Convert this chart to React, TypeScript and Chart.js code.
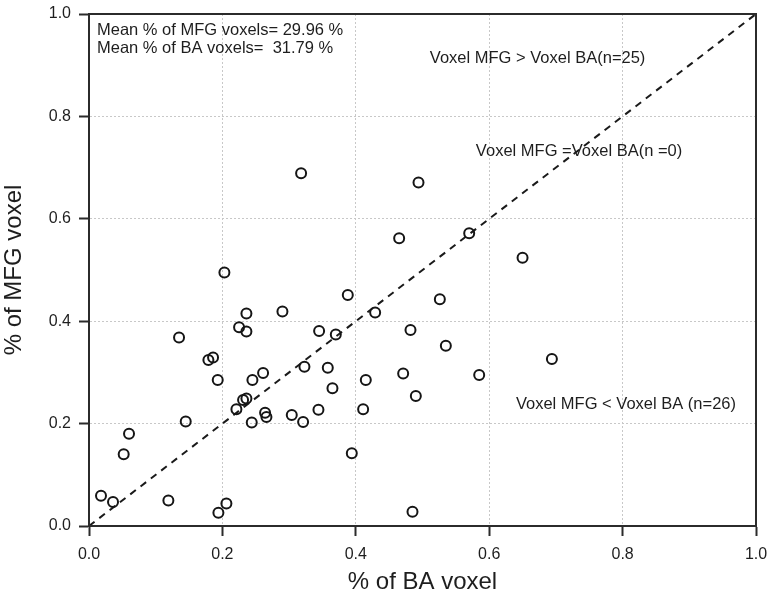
import React, { useEffect, useRef } from "react";
import { Chart, registerables } from "chart.js";

Chart.register(...registerables);

// % of BA voxel (x) and % of MFG voxel (y) for each subject
const baVoxel = [
  0.018, 0.036, 0.052, 0.060, 0.119, 0.135, 0.145, 0.179, 0.186, 0.193,
  0.194, 0.206, 0.221, 0.225, 0.231, 0.236, 0.236, 0.236, 0.244, 0.245,
  0.261, 0.264, 0.266, 0.290, 0.304, 0.321, 0.323, 0.344, 0.345, 0.358,
  0.365, 0.370, 0.388, 0.394, 0.411, 0.415, 0.429, 0.318, 0.203, 0.494,
  0.465, 0.570, 0.650, 0.526, 0.482, 0.535, 0.694, 0.471, 0.585, 0.490,
  0.485,
];
const mfgVoxel = [
  0.059, 0.047, 0.140, 0.180, 0.050, 0.368, 0.204, 0.324, 0.329, 0.285,
  0.026, 0.044, 0.228, 0.388, 0.246, 0.249, 0.415, 0.380, 0.202, 0.285,
  0.299, 0.221, 0.213, 0.419, 0.217, 0.203, 0.311, 0.227, 0.381, 0.309,
  0.269, 0.374, 0.451, 0.142, 0.228, 0.285, 0.417, 0.689, 0.495, 0.671,
  0.562, 0.572, 0.524, 0.443, 0.383, 0.352, 0.326, 0.298, 0.295, 0.254,
  0.028,
];

// identity (y = x) reference line
const identityX = [0, 1];
const identityY = [0, 1];

const tickValues = [0, 0.2, 0.4, 0.6, 0.8, 1.0];

const annotationTexts = [
  "Mean % of MFG voxels= 29.96 %",
  "Mean % of BA voxels=  31.79 %",
  "Voxel MFG > Voxel BA(n=25)",
  "Voxel MFG =Voxel BA(n =0)",
  "Voxel MFG < Voxel BA (n=26)",
];
// anchor (left edge, vertical middle) of each annotation, in data units
const annotationX = [0.012, 0.012, 0.511, 0.580, 0.640];
const annotationY = [0.968, 0.932, 0.914, 0.731, 0.238];

const FONT = "'Liberation Sans', Arial, Helvetica, sans-serif";

const framePlugin = {
  id: "frame",
  afterDatasetsDraw(chart: any) {
    const { ctx, chartArea } = chart;
    ctx.save();
    ctx.strokeStyle = "#2b2b2b";
    ctx.lineWidth = 2;
    ctx.strokeRect(
      chartArea.left,
      chartArea.top,
      chartArea.right - chartArea.left,
      chartArea.bottom - chartArea.top
    );
    ctx.restore();
  },
};

const annotationPlugin = {
  id: "annotations",
  afterDraw(chart: any) {
    const { ctx, scales } = chart;
    ctx.save();
    ctx.fillStyle = "#1e1e1e";
    ctx.font = `16.5px ${FONT}`;
    ctx.textAlign = "left";
    ctx.textBaseline = "middle";
    annotationTexts.forEach((t, i) => {
      const px = scales.x.getPixelForValue(annotationX[i]);
      const py = scales.y.getPixelForValue(annotationY[i]);
      ctx.fillText(t, px, py);
    });
    ctx.restore();
  },
};

function clearPadding(scale: any) {
  scale.paddingTop = 0;
  scale.paddingBottom = 0;
  scale.paddingLeft = 0;
  scale.paddingRight = 0;
}

export default function App() {
  const ref = useRef<HTMLCanvasElement | null>(null);

  useEffect(() => {
    if (!ref.current) return;
    const points = baVoxel.map((x, i) => ({ x, y: mfgVoxel[i] }));
    const diag = identityX.map((x, i) => ({ x, y: identityY[i] }));

    const axisCommon = {
      type: "linear" as const,
      min: 0,
      max: 1,
      afterBuildTicks: (scale: any) => {
        scale.ticks = tickValues.map((v) => ({ value: v }));
      },
      grid: {
        color: "#c8c8c8",
        lineWidth: 1,
        tickColor: "#2b2b2b",
        tickWidth: 2,
        tickLength: 10,
        tickBorderDash: [],
      },
      border: { color: "#2b2b2b", width: 2, dash: [2, 2] },
    };

    const chart = new Chart(ref.current, {
      type: "scatter",
      data: {
        datasets: [
          {
            type: "line",
            data: diag,
            borderColor: "#1a1a1a",
            borderWidth: 2,
            borderDash: [7, 6],
            pointRadius: 0,
            fill: false,
            order: 2,
          } as any,
          {
            data: points,
            pointStyle: "circle",
            pointRadius: 5,
            pointBorderWidth: 2,
            pointBackgroundColor: "rgba(0,0,0,0)",
            pointBorderColor: "#151515",
            backgroundColor: "rgba(0,0,0,0)",
            borderColor: "#151515",
            order: 1,
          },
        ],
      },
      options: {
        responsive: false,
        animation: false,
        layout: { padding: { top: 14, right: 17, left: 0, bottom: 0 } },
        plugins: {
          legend: { display: false },
          tooltip: { enabled: false },
        },
        scales: {
          x: {
            ...axisCommon,
            position: "bottom",
            afterFit: (scale: any) => {
              scale.height = 71;
              clearPadding(scale);
            },
            ticks: {
              color: "#1e1e1e",
              padding: 9,
              maxRotation: 0,
              font: { family: FONT, size: 16 },
              callback: (v: any) => Number(v).toFixed(1),
            },
            title: {
              display: true,
              text: "% of BA voxel",
              color: "#1e1e1e",
              padding: { top: 0, bottom: 0 },
              font: { family: FONT, size: 24 },
            },
          },
          y: {
            ...axisCommon,
            position: "left",
            afterFit: (scale: any) => {
              scale.width = 89;
              clearPadding(scale);
            },
            ticks: {
              color: "#1e1e1e",
              padding: 8,
              font: { family: FONT, size: 16 },
              callback: (v: any) => Number(v).toFixed(1),
            },
            title: {
              display: true,
              text: "% of MFG voxel",
              color: "#1e1e1e",
              padding: { top: 0, bottom: 0 },
              font: { family: FONT, size: 24 },
            },
          },
        },
      } as any,
      plugins: [framePlugin, annotationPlugin],
    });

    return () => chart.destroy();
  }, []);

  return (
    <div
      style={{
        position: "absolute",
        left: 0,
        top: 0,
        width: 773,
        height: 597,
        background: "#ffffff",
      }}
    >
      <canvas ref={ref} width={773} height={597} style={{ display: "block" }} />
    </div>
  );
}
